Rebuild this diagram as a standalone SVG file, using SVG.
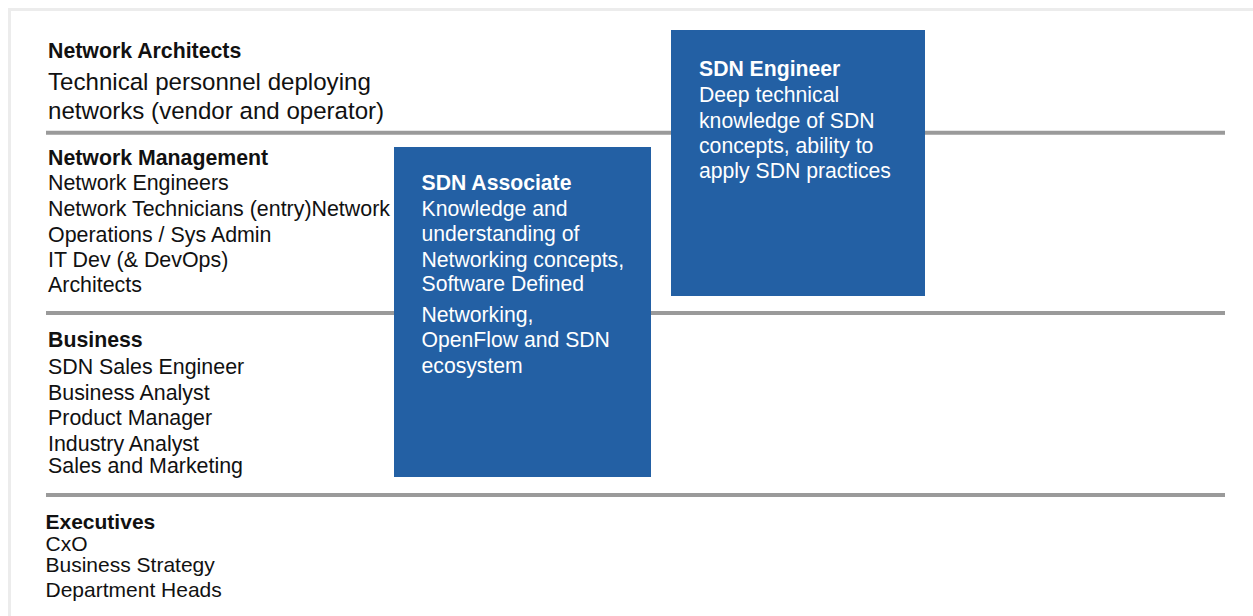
<svg xmlns="http://www.w3.org/2000/svg" width="1253" height="616" viewBox="0 0 1253 616">
<style>
  text { font-family: "Liberation Sans", Arial, sans-serif; fill: #111; }
  .h { font-weight: bold; font-size: 21.3px; }
  .i { font-size: 21.4px; }
  .d { font-size: 24.1px; }
  .e { font-size: 21px; }
  .eh { font-weight: bold; font-size: 21px; }
  .box { fill: #2360a4; }
  .bt { fill: #ffffff; font-size: 21.2px; }
  .bh { fill: #ffffff; font-size: 21.2px; font-weight: bold; }
  .div { stroke: #9a9a9a; stroke-width: 4; }
  .frame { stroke: #ececec; stroke-width: 3; fill: none; }
</style>
<rect width="1253" height="616" fill="#ffffff"/>
<path class="frame" d="M9.5 616 V9.5 H1253"/>
<g id="dividers">
  <line class="div" x1="46" y1="132.7" x2="1225" y2="132.7"/>
  <line class="div" x1="46" y1="313" x2="1225" y2="313"/>
  <line class="div" x1="46" y1="495" x2="1225" y2="495"/>
</g>
<g id="network-architects">
  <text class="h" x="48" y="58">Network Architects</text>
  <text class="d" x="48" y="90">Technical personnel deploying</text>
  <text class="d" x="48" y="119">networks (vendor and operator)</text>
</g>
<g id="network-management">
  <text class="h" x="48" y="165">Network Management</text>
  <text class="i" x="48" y="190">Network Engineers</text>
  <text class="i" x="48" y="216">Network Technicians (entry)Network</text>
  <text class="i" x="48" y="241.5">Operations / Sys Admin</text>
  <text class="i" x="48" y="267">IT Dev (&amp; DevOps)</text>
  <text class="i" x="48" y="291.5">Architects</text>
</g>
<g id="business">
  <text class="h" x="48" y="347">Business</text>
  <text class="i" x="48" y="374">SDN Sales Engineer</text>
  <text class="i" x="48" y="399.5">Business Analyst</text>
  <text class="i" x="48" y="425">Product Manager</text>
  <text class="i" x="48" y="450.5">Industry Analyst</text>
  <text class="i" x="48" y="472.5">Sales and Marketing</text>
</g>
<g id="executives">
  <text class="eh" x="45.5" y="529">Executives</text>
  <text class="e" x="45.5" y="551">CxO</text>
  <text class="e" x="45.5" y="572">Business Strategy</text>
  <text class="e" x="45.5" y="597">Department Heads</text>
</g>
<g id="sdn-associate">
  <rect class="box" x="394" y="147" width="257" height="330"/>
  <text class="bh" x="421.5" y="190">SDN Associate</text>
  <text class="bt" x="421.5" y="215.5">Knowledge and</text>
  <text class="bt" x="421.5" y="241">understanding of</text>
  <text class="bt" x="421.5" y="266.5">Networking concepts,</text>
  <text class="bt" x="421.5" y="291">Software Defined</text>
  <text class="bt" x="421.5" y="321.5">Networking,</text>
  <text class="bt" x="421.5" y="347">OpenFlow and SDN</text>
  <text class="bt" x="421.5" y="373">ecosystem</text>
</g>
<g id="sdn-engineer">
  <rect class="box" x="671" y="30" width="254" height="266"/>
  <text class="bh" x="699" y="76">SDN Engineer</text>
  <text class="bt" x="699" y="102">Deep technical</text>
  <text class="bt" x="699" y="127.5">knowledge of SDN</text>
  <text class="bt" x="699" y="153">concepts, ability to</text>
  <text class="bt" x="699" y="177.5">apply SDN practices</text>
</g>
</svg>
